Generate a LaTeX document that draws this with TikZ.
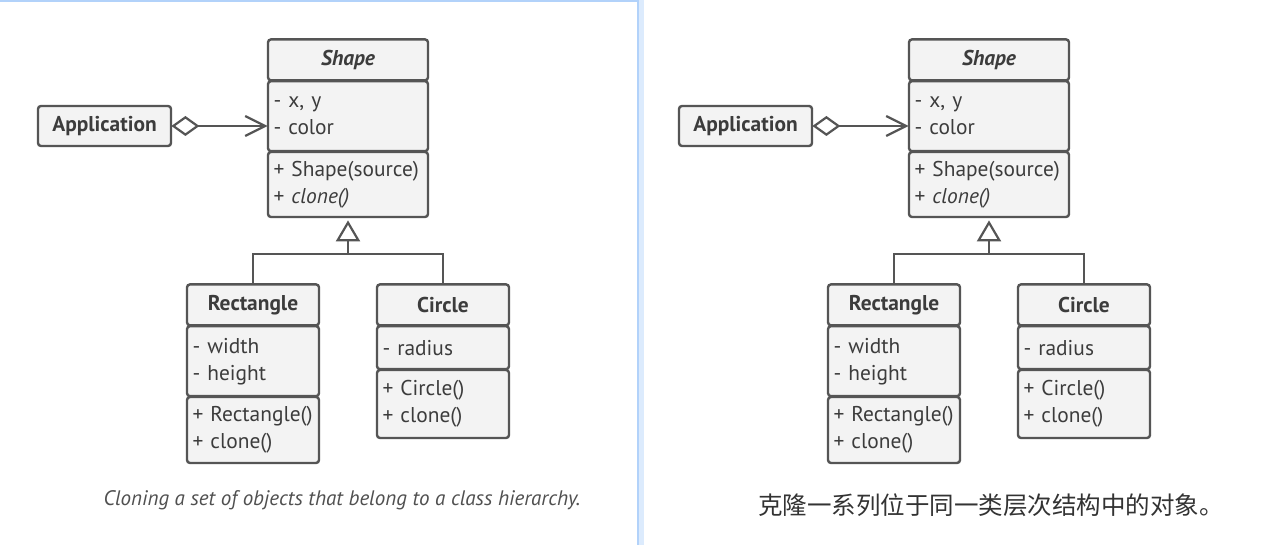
\documentclass[tikz,border=0pt]{standalone}
\usepackage{fontspec}
\setmainfont{PT Sans}
\newfontfamily\cjkfont{Noto Sans CJK SC}
\usetikzlibrary{arrows.meta, positioning}
\definecolor{umlgray}{RGB}{85, 85, 85}
\definecolor{umlfill}{RGB}{243, 243, 243}
\definecolor{umltext}{RGB}{60, 60, 60}
\definecolor{captext}{RGB}{80, 80, 80}
\definecolor{panelblue}{RGB}{178, 210, 250}
\newcommand\umlsize{\fontsize{21.4}{27}\selectfont}

\begin{document}
\begin{tikzpicture}[x=1pt, y=1pt,
  box/.style={draw=umlgray, fill=umlfill, line width=2.4pt, rounded corners=3pt, text=umltext, inner xsep=5.5pt, inner ysep=0pt, outer sep=0.4pt, font=\umlsize},
  ctitle/.style={box, align=center, minimum height=41pt, font=\umlsize\bfseries, anchor=north},
  attr/.style={box, align=left, minimum height=70pt},
  attrone/.style={box, align=left, minimum height=43pt},
  meth/.style={box, align=left, minimum height=66pt},
  wide/.style={text width=149pt},
  narrow/.style={text width=121pt},
  umlline/.style={draw=umlgray, line width=2.2pt}
]
  \useasboundingbox (0,0) rectangle (1268,545);
  \fill[white] (0,0) rectangle (1268,545);
  % left panel frame
  \draw[panelblue!45, line width=5pt] (641,545) -- (641,0);
  \draw[panelblue, line width=2pt] (0,544) -- (638,544) -- (638,0);

  \foreach \p/\dx in {l/0, r/641}{
  \begin{scope}[xshift=\dx pt]
    % classes
    \node[ctitle, wide, font=\umlsize\bfseries\itshape] (\p-shape) at (348,506) {Shape};
    \node[attr, wide, below=0pt of \p-shape] (\p-shape-attr) {- x, y\\- color};
    \node[meth, wide, below=0pt of \p-shape-attr, minimum height=65pt] (\p-shape-meth) {+ Shape(source)\\+ \textit{clone()}};

    \node[ctitle, narrow] (\p-rect) at (253,261) {Rectangle};
    \node[attr, narrow, below=0pt of \p-rect] (\p-rect-attr) {- width\\- height};
    \node[meth, narrow, below=0pt of \p-rect-attr] (\p-rect-meth) {+ Rectangle()\\+ clone()};

    \node[ctitle, narrow] (\p-circ) at (443,261) {Circle};
    \node[attrone, narrow, below=0pt of \p-circ] (\p-circ-attr) {- radius};
    \node[meth, narrow, below=0pt of \p-circ-attr, minimum height=68pt] (\p-circ-meth) {+ Circle()\\+ clone()};

    \node[box, font=\umlsize\bfseries, minimum height=40pt, minimum width=133pt] (\p-app) at (104.5,419) {Application};

    % aggregation
    \draw[umlline, {Diamond[open, length=28pt, width=20pt]}-{Straight Barb[length=20pt, width=20pt]}]
      (\p-app.east) -- (\p-app.east -| \p-shape-attr.west);

    % inheritance
    \coordinate (\p-fork) at (348,291);
    \draw[umlline] (\p-rect.north) |- (\p-fork) -| (\p-circ.north);
    \draw[umlline, -{Triangle[open, length=21pt, width=24pt]}, shorten >=3pt] (\p-fork) -- (\p-shape-meth.south);
  \end{scope}
  }

  % captions
  \node[text=captext, font=\fontsize{21}{25}\selectfont\itshape] (cap-en) at (342,45) {Cloning a set of objects that belong to a class hierarchy.};
  \node[text=black!80, font=\cjkfont\fontsize{24.5}{28}\selectfont] (cap-zh) at (991,40) {克隆一系列位于同一类层次结构中的对象。};
\end{tikzpicture}
\end{document}
